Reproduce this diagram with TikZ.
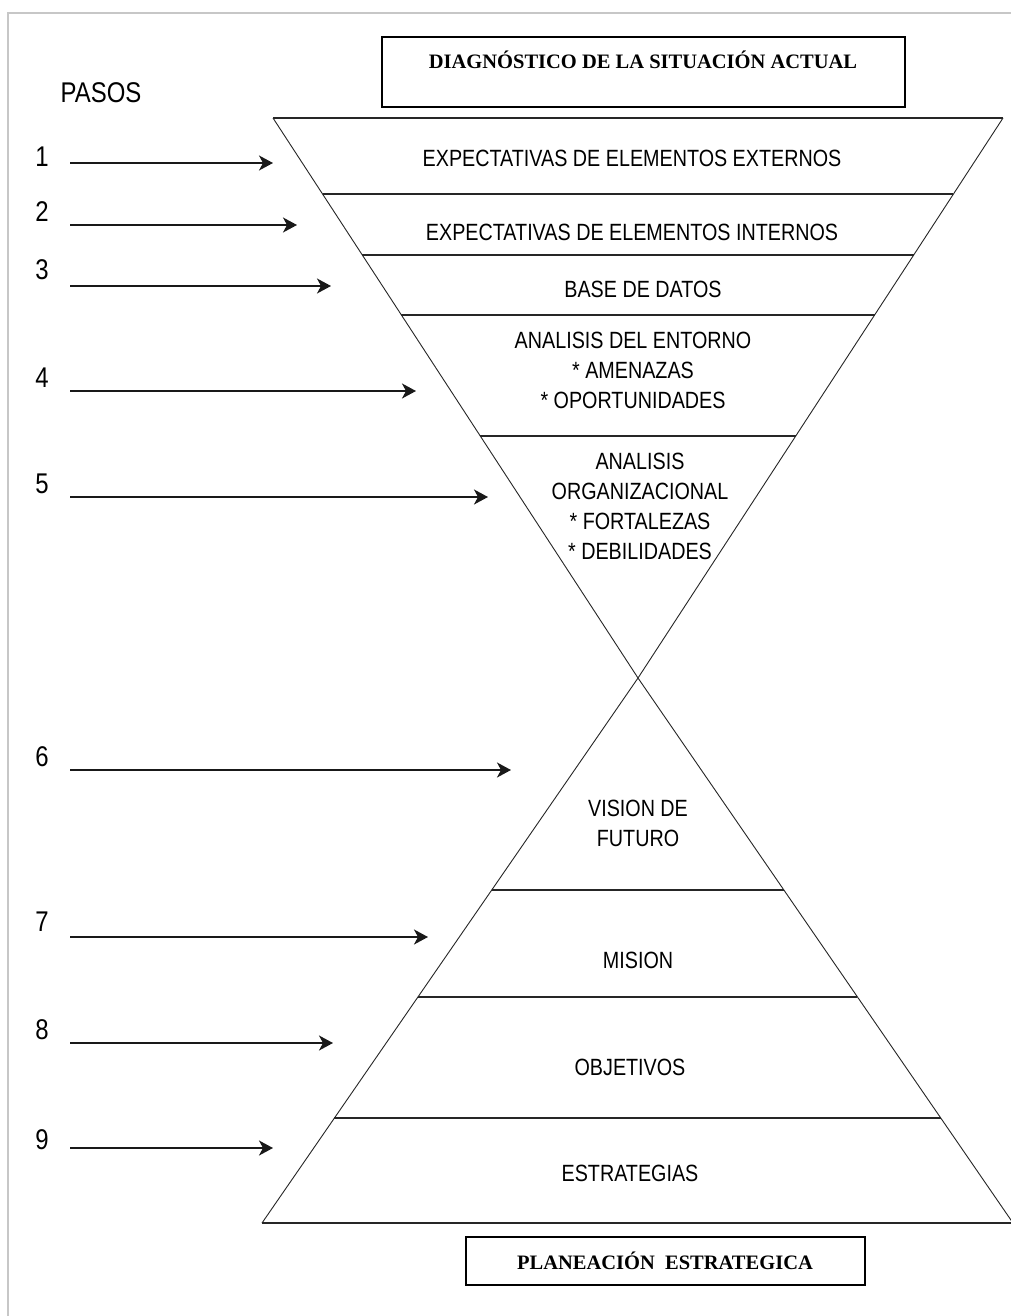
\documentclass[tikz,border=0pt]{standalone}
\usepackage{fontspec}
\setmainfont{Liberation Serif}
\newfontfamily\condsans[FakeStretch=0.84]{Liberation Sans}
\usetikzlibrary{calc,arrows.meta}
\begin{document}
\begin{tikzpicture}[x=1pt,y=-1pt,
  frameline/.style={draw=black!22,line width=1.2pt},
  band/.style={draw=black!85,line width=1.6pt},
  side/.style={draw=black!85,line width=0.9pt},
  titlebox/.style={draw=black,line width=1.5pt},
  steparrow/.style={draw=black!90,line width=1.8pt,-{Stealth[length=14pt,width=15pt,inset=4pt]}},
  steplabel/.style={font=\condsans\fontsize{28.5}{30}\selectfont,inner sep=0pt},
  inner/.style={font=\condsans\fontsize{23.5}{30}\selectfont,align=center,inner sep=0pt},
  title/.style={font=\bfseries\fontsize{20.5}{24}\selectfont,inner sep=0pt}]
\useasboundingbox (0,0) rectangle (1011,1316);
\fill[white] (0,0) rectangle (1011,1316);

% page frame (top and left edges)
\draw[frameline] (8,1316) -- (8,13) -- (1011,13);

% corner points of the hourglass
\coordinate (TL) at (273,118);
\coordinate (TR) at (1003,118);
\coordinate (X)  at (638,678);
\coordinate (BL) at (262,1223);
\coordinate (BR) at (1013,1223);

% upper funnel
\draw[side] (TL) -- (X) -- (TR);
\draw[band] (TL) -- (TR);
\foreach \t in {0.1357,0.2446,0.3518,0.5679}
  \draw[band] ($(TL)!\t!(X)$) -- ($(TR)!\t!(X)$);

% lower pyramid
\draw[side] (BL) -- (X) -- (BR);
\draw[band] (BL) -- (BR);
\foreach \t in {0.389,0.5853,0.8073}
  \draw[band] ($(X)!\t!(BL)$) -- ($(X)!\t!(BR)$);

% title boxes
\draw[titlebox] (382,37) rectangle (905,107);
\node[title] (diag) at (643,60) {DIAGNÓSTICO DE LA SITUACIÓN ACTUAL};
\draw[titlebox] (466,1237) rectangle (865,1285);
\node[title] (plan) at (665,1261) {PLANEACIÓN\ \ ESTRATEGICA};

% texts inside the bands
\node[inner] (e1) at (632,158) {EXPECTATIVAS DE ELEMENTOS EXTERNOS};
\node[inner] (e2) at (632,232) {EXPECTATIVAS DE ELEMENTOS INTERNOS};
\node[inner] (e3) at (643,289) {BASE DE DATOS};
\node[inner] (e4) at (633,370) {ANALISIS DEL ENTORNO\\* AMENAZAS\\* OPORTUNIDADES};
\node[inner] (e5) at (640,506) {ANALISIS\\ORGANIZACIONAL\\* FORTALEZAS\\* DEBILIDADES};
\node[inner] (e6) at (638,823) {VISION DE\\FUTURO};
\node[inner] (e7) at (638,960) {MISION};
\node[inner] (e8) at (630,1067) {OBJETIVOS};
\node[inner] (e9) at (630,1173) {ESTRATEGIAS};

% step numbers and arrows
\node[steplabel] (pasos) at (101,93) {PASOS};
\foreach \n/\ny/\ay/\ax in {1/157/163/273, 2/212/225/297, 3/270/286/331,
                            4/378/391/416, 5/484/497/488, 6/757/770/511,
                            7/922/937/428, 8/1030/1043/333, 9/1140/1148/273}{
  \node[steplabel] (n\n) at (42,\ny) {\n};
  \coordinate (s\n) at (70,\ay);
  \coordinate (a\n) at (\ax,\ay);
  \draw[steparrow] (s\n) -- (a\n);
}
\end{tikzpicture}
\end{document}
